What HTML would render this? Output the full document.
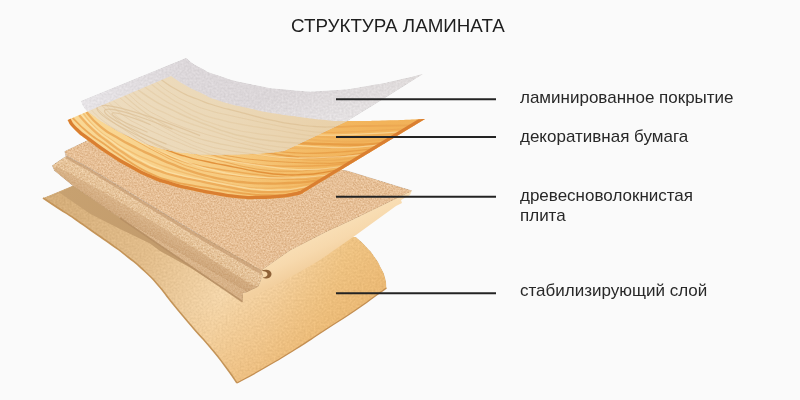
<!DOCTYPE html>
<html lang="ru">
<head>
<meta charset="utf-8">
<title>Структура ламината</title>
<style>
  html, body { margin:0; padding:0; }
  body { width:800px; height:400px; overflow:hidden; background:#fafafa; font-family:"Liberation Sans", sans-serif; position:relative; }
  svg { position:absolute; left:0; top:0; }
  .title { position:absolute; left:291px; top:15px; font-size:18.8px; line-height:22px; color:#1e1e1e; white-space:nowrap; }
  .title, .lbl { will-change:transform; }
  .lbl { position:absolute; left:520px; font-size:17px; line-height:20px; color:#282828; white-space:nowrap; }
</style>
</head>
<body>
<svg width="800" height="400" viewBox="0 0 800 400">
  <defs>
    <filter id="speck" x="0" y="0" width="100%" height="100%" color-interpolation-filters="sRGB">
      <feTurbulence type="fractalNoise" baseFrequency="0.62" numOctaves="2" seed="7" result="n"/>
      <feColorMatrix in="n" type="matrix" values="0.7 0 0 0 0.15  1 0 0 0 0  1.25 0 0 0 -0.125  0 0 0 0 1" result="nc"/>
      <feGaussianBlur in="nc" stdDeviation="0.35" result="nb"/>
      <feComposite in="SourceGraphic" in2="nb" operator="arithmetic" k1="0" k2="1" k3="0.26" k4="-0.13" result="mix"/>
      <feComposite in="mix" in2="SourceAlpha" operator="in"/>
    </filter>
    <filter id="soft" x="0" y="0" width="100%" height="100%" color-interpolation-filters="sRGB">
      <feTurbulence type="fractalNoise" baseFrequency="0.5" numOctaves="2" seed="11" result="n"/>
      <feColorMatrix in="n" type="matrix" values="1 0 0 0 0  1 0 0 0 0  1 0 0 0 0  0 0 0 0 1" result="nc"/>
      <feGaussianBlur in="nc" stdDeviation="0.5" result="nb"/>
      <feComposite in="SourceGraphic" in2="nb" operator="arithmetic" k1="0" k2="1" k3="0.1" k4="-0.05" result="mix"/>
      <feComposite in="mix" in2="SourceAlpha" operator="in"/>
    </filter>
    <linearGradient id="gFilm" x1="85" y1="100" x2="420" y2="90" gradientUnits="userSpaceOnUse">
      <stop offset="0" stop-color="#e6e3e6"/>
      <stop offset="0.3" stop-color="#dcd7da"/>
      <stop offset="0.7" stop-color="#dbd6d8"/>
      <stop offset="1" stop-color="#d9d4d4"/>
    </linearGradient>
    <linearGradient id="gFilmV" x1="300" y1="88" x2="315" y2="135" gradientUnits="userSpaceOnUse">
      <stop offset="0" stop-color="#ffffff" stop-opacity="0"/>
      <stop offset="1" stop-color="#ffffff" stop-opacity="0.32"/>
    </linearGradient>
    <linearGradient id="gWood" x1="120" y1="90" x2="330" y2="200" gradientUnits="userSpaceOnUse">
      <stop offset="0" stop-color="#f9d794"/>
      <stop offset="0.5" stop-color="#f7cc82"/>
      <stop offset="1" stop-color="#f4be6a"/>
    </linearGradient>
    <linearGradient id="gGold" x1="60" y1="200" x2="380" y2="300" gradientUnits="userSpaceOnUse">
      <stop offset="0" stop-color="#d5ae7a"/>
      <stop offset="0.3" stop-color="#e2bd8b"/>
      <stop offset="0.55" stop-color="#f4d6aa"/>
      <stop offset="0.7" stop-color="#f3d1a1"/>
      <stop offset="0.86" stop-color="#efc586"/>
      <stop offset="1" stop-color="#ecbe7c"/>
    </linearGradient>
    <linearGradient id="gGold2" x1="230" y1="290" x2="270" y2="370" gradientUnits="userSpaceOnUse">
      <stop offset="0" stop-color="#e9b46c" stop-opacity="0"/>
      <stop offset="1" stop-color="#e9b46e" stop-opacity="0.65"/>
    </linearGradient>
    <linearGradient id="gTongue" x1="0" y1="0" x2="-14" y2="24" gradientUnits="userSpaceOnUse" spreadMethod="repeat" gradientTransform="translate(100,174)">
      <stop offset="0" stop-color="#e9c8a0"/>
      <stop offset="0.6" stop-color="#e3c096"/>
      <stop offset="1" stop-color="#d3ad82"/>
    </linearGradient>
    <linearGradient id="gSide" x1="60" y1="175" x2="250" y2="295" gradientUnits="userSpaceOnUse">
      <stop offset="0" stop-color="#cda478"/>
      <stop offset="0.6" stop-color="#cba276"/>
      <stop offset="1" stop-color="#c69b6e"/>
    </linearGradient>
    <linearGradient id="gShadow" x1="60" y1="195" x2="240" y2="300" gradientUnits="userSpaceOnUse">
      <stop offset="0" stop-color="#c7a170"/>
      <stop offset="0.6" stop-color="#c29b6c"/>
      <stop offset="1" stop-color="#c8a274"/>
    </linearGradient>
    <linearGradient id="gCream" x1="300" y1="240" x2="312" y2="266" gradientUnits="userSpaceOnUse">
      <stop offset="0" stop-color="#f9dfb6"/>
      <stop offset="0.55" stop-color="#f7d9ad"/>
      <stop offset="1" stop-color="#f3d09f"/>
    </linearGradient>
    <linearGradient id="gWoodR" x1="230" y1="0" x2="420" y2="0" gradientUnits="userSpaceOnUse">
      <stop offset="0" stop-color="#ee9f3c" stop-opacity="0"/>
      <stop offset="0.5" stop-color="#ee9f3c" stop-opacity="0.28"/>
      <stop offset="1" stop-color="#ee9f3c" stop-opacity="0.4"/>
    </linearGradient>
    <linearGradient id="gPale" x1="100" y1="0" x2="350" y2="0" gradientUnits="userSpaceOnUse">
      <stop offset="0" stop-color="#eddcbf"/>
      <stop offset="0.5" stop-color="#ebd8b7"/>
      <stop offset="1" stop-color="#e9d0a8"/>
    </linearGradient>
    <clipPath id="cWood"><path d="M67.5,120.0L171.0,76.0C175.7,79.0 175.3,79.5 185.0,85.0 C194.7,90.5 188.3,87.2 200.0,92.5 C211.7,97.8 203.3,95.7 220.0,101.0 C236.7,106.3 231.7,104.3 250.0,108.5 C268.3,112.7 258.3,110.7 275.0,113.5 C291.7,116.3 283.3,114.8 300.0,117.0 C316.7,119.2 310.0,118.7 325.0,120.0 C340.0,121.3 325.0,120.8 345.0,121.0 C365.0,121.2 358.3,121.2 385.0,120.5 C411.7,119.8 411.7,119.5 425.0,119.0L304.0,192.3C302.8,192.9 304.5,192.9 300.5,194.2 C296.5,195.5 299.5,194.9 292.0,196.2 C284.5,197.5 288.7,197.1 278.0,198.0 C267.3,198.9 272.7,198.8 260.0,199.0 C247.3,199.2 255.0,199.8 240.0,198.5 C225.0,197.2 231.7,197.8 215.0,195.0 C198.3,192.2 205.0,193.3 190.0,190.0 C175.0,186.7 183.3,189.0 170.0,185.0 C156.7,181.0 163.3,183.7 150.0,178.0 C136.7,172.3 143.3,175.3 130.0,168.0 C116.7,160.7 123.3,164.7 110.0,156.0 C96.7,147.3 101.7,150.7 90.0,142.0 C78.3,133.3 82.5,137.3 75.0,130.0 C67.5,122.7 70.0,123.3 67.5,120.0 Z"/></clipPath>
    <clipPath id="cFilm"><path d="M81.0,101.0L186.0,58.0C190.7,61.2 188.7,61.5 200.0,67.5 C211.3,73.5 203.3,70.5 220.0,76.0 C236.7,81.5 226.7,79.3 250.0,84.0 C273.3,88.7 263.3,87.8 290.0,90.0 C316.7,92.2 303.3,92.0 330.0,90.5 C356.7,89.0 346.7,89.2 370.0,85.5 C393.3,81.8 382.3,83.3 400.0,79.5 C417.7,75.7 415.3,75.8 423.0,74.0L385.0,98.0 L347.5,121.0 L284.0,151.0C276.0,151.8 278.0,152.3 260.0,153.5 C242.0,154.7 248.3,154.2 230.0,154.5 C211.7,154.8 218.3,154.8 205.0,154.5 C191.7,154.2 200.0,154.5 190.0,153.5 C180.0,152.5 187.5,154.0 175.0,151.5 C162.5,149.0 167.5,150.8 152.5,146.0 C137.5,141.2 145.0,144.0 130.0,137.0 C115.0,130.0 120.2,132.5 107.5,125.0 C94.8,117.5 99.5,119.8 92.0,114.5 C84.5,109.2 87.3,110.8 85.0,109.0 Q82,105 81,101 Z"/></clipPath>
  </defs>

  <!-- layer 4: stabilising layer -->
  <g filter="url(#soft)">
  <path d="M43.0,198.0C48.0,201.3 47.3,201.0 58.0,208.0 C68.7,215.0 63.7,211.3 75.0,219.0 C86.3,226.7 80.3,222.8 92.0,231.0 C103.7,239.2 98.0,234.8 110.0,243.5 C122.0,252.2 116.3,247.7 128.0,257.0 C139.7,266.3 135.0,262.2 145.0,271.5 C155.0,280.8 149.8,275.7 158.0,285.0 C166.2,294.3 162.8,291.2 169.5,299.5 C176.2,307.8 169.8,300.2 178.0,310.0 C186.2,319.8 183.3,316.7 194.0,329.0 C204.7,341.3 199.7,334.7 210.0,347.0 C220.3,359.3 216.0,354.0 225.0,366.0 C234.0,378.0 233.0,377.3 237.0,383.0C246.3,377.8 245.7,378.7 265.0,367.5 C284.3,356.3 275.0,362.0 295.0,349.5 C315.0,337.0 305.0,343.0 325.0,330.0 C345.0,317.0 338.0,322.0 355.0,310.5 C372.0,299.0 365.5,303.0 376.0,295.5 C386.5,288.0 383.0,290.5 386.5,288.0C386.0,284.5 386.8,284.2 385.0,277.5 C383.2,270.8 384.3,274.7 381.0,268.0 C377.7,261.3 380.0,264.7 375.0,257.5 C370.0,250.3 372.3,253.3 366.0,246.5 C359.7,239.7 359.3,240.2 356.0,237.0L300.0,235.0 L200.0,235.0 L73.0,185.5 Z" fill="url(#gGold)"/>
  <path d="M43.0,198.0C48.0,201.3 47.3,201.0 58.0,208.0 C68.7,215.0 63.7,211.3 75.0,219.0 C86.3,226.7 80.3,222.8 92.0,231.0 C103.7,239.2 98.0,234.8 110.0,243.5 C122.0,252.2 116.3,247.7 128.0,257.0 C139.7,266.3 135.0,262.2 145.0,271.5 C155.0,280.8 149.8,275.7 158.0,285.0 C166.2,294.3 162.8,291.2 169.5,299.5 C176.2,307.8 169.8,300.2 178.0,310.0 C186.2,319.8 183.3,316.7 194.0,329.0 C204.7,341.3 199.7,334.7 210.0,347.0 C220.3,359.3 216.0,354.0 225.0,366.0 C234.0,378.0 233.0,377.3 237.0,383.0C246.3,377.8 245.7,378.7 265.0,367.5 C284.3,356.3 275.0,362.0 295.0,349.5 C315.0,337.0 305.0,343.0 325.0,330.0 C345.0,317.0 338.0,322.0 355.0,310.5 C372.0,299.0 365.5,303.0 376.0,295.5 C386.5,288.0 383.0,290.5 386.5,288.0C386.0,284.5 386.8,284.2 385.0,277.5 C383.2,270.8 384.3,274.7 381.0,268.0 C377.7,261.3 380.0,264.7 375.0,257.5 C370.0,250.3 372.3,253.3 366.0,246.5 C359.7,239.7 359.3,240.2 356.0,237.0L300.0,235.0 L200.0,235.0 L73.0,185.5 Z" fill="url(#gGold2)"/>
  </g>
  <path d="M43.0,198.0C48.0,201.3 47.3,201.0 58.0,208.0 C68.7,215.0 63.7,211.3 75.0,219.0 C86.3,226.7 80.3,222.8 92.0,231.0 C103.7,239.2 98.0,234.8 110.0,243.5 C122.0,252.2 116.3,247.7 128.0,257.0 C139.7,266.3 135.0,262.2 145.0,271.5 C155.0,280.8 149.8,275.7 158.0,285.0 C166.2,294.3 162.8,291.2 169.5,299.5 C176.2,307.8 169.8,300.2 178.0,310.0 C186.2,319.8 183.3,316.7 194.0,329.0 C204.7,341.3 199.7,334.7 210.0,347.0 C220.3,359.3 216.0,354.0 225.0,366.0 C234.0,378.0 233.0,377.3 237.0,383.0" fill="none" stroke="#c49458" stroke-width="1.6"/>
  <path d="M237.0,383.0C246.3,377.8 245.7,378.7 265.0,367.5 C284.3,356.3 275.0,362.0 295.0,349.5 C315.0,337.0 305.0,343.0 325.0,330.0 C345.0,317.0 338.0,322.0 355.0,310.5 C372.0,299.0 365.5,303.0 376.0,295.5 C386.5,288.0 383.0,290.5 386.5,288.0" fill="none" stroke="#c48f52" stroke-width="1.3"/>

  <!-- layer 3: board -->
  <!-- shadow band on stabilising layer (T3..T4) -->
  <path d="M73,186 L225,290 L215,283.5 L190,267.5 L160,251 L150,243.5 L120,229 L90,213.75 L60,193 L46,198.5 Z" fill="url(#gShadow)"/>
  <!-- cream front side face -->
  <path d="M261,268.5 L290,248 L326,230 L407,191 L412,190.5 L410,195 L401,200 L402,203 L396,206 L356,235 L320,260 L300,271.75 L270,287.5 L242.5,301.75 L243,293 L246,292.5 L258.5,286.5 Z" fill="url(#gCream)"/>
  <!-- tongue + side (A..T3) -->
  <path d="M52,165.5 L64.4,157 L67,156 L90,168.5 L160,211 L208,240 L261.3,270.6 L263,275 L258.5,286.5 L246,292.5 L243,293 L242.5,301.75 L73,186 L54,170.5 Z" fill="url(#gTongue)" filter="url(#speck)"/>
  <!-- lower side of tongue (T2..T3) -->
  <path d="M54,170 L56,166 L100,190 L160,226 L250,284 L258.5,286.5 L246,292.5 L243,293 L242.5,301.75 L73,186 Z" fill="url(#gSide)" opacity="0.5"/>
  <path d="M120,218 L242.5,301.75" stroke="#b48c60" stroke-width="1.6" fill="none" opacity="0.8"/>
  <!-- shadow lip under top face -->
  <path d="M64.4,151.25 L67,156 L90,168.5 L160,211 L208,240 L261.3,270.6 L262.3,275 L208,244 L160,214.8 L90,171.8 L66,158.5 Z" fill="#c0956a" opacity="0.62"/>
  <!-- groove -->
  <path d="M261.5,270.8 C265,268.6 271.5,269.6 271.5,274 C271.5,278.4 265.5,279.6 262.5,277.6 C265.5,277.4 267.6,276 267.5,274 C267.4,272 265,271.2 261.5,270.8 Z" fill="#8f6238"/>
  <!-- top face -->
  <path d="M64.4,151.25 L88,140 L347,170.5 L412,190.5 L410,192 L350,221 L326,232 L290,250.5 L261.3,270.6 L208,240 L160,211 L90,168.5 L67,156 Z" fill="#e6bf96" filter="url(#speck)"/>

  <!-- layer 2: decorative paper -->
  <path d="M67.5,120.0L171.0,76.0C175.7,79.0 175.3,79.5 185.0,85.0 C194.7,90.5 188.3,87.2 200.0,92.5 C211.7,97.8 203.3,95.7 220.0,101.0 C236.7,106.3 231.7,104.3 250.0,108.5 C268.3,112.7 258.3,110.7 275.0,113.5 C291.7,116.3 283.3,114.8 300.0,117.0 C316.7,119.2 310.0,118.7 325.0,120.0 C340.0,121.3 325.0,120.8 345.0,121.0 C365.0,121.2 358.3,121.2 385.0,120.5 C411.7,119.8 411.7,119.5 425.0,119.0L304.0,192.3C302.8,192.9 304.5,192.9 300.5,194.2 C296.5,195.5 299.5,194.9 292.0,196.2 C284.5,197.5 288.7,197.1 278.0,198.0 C267.3,198.9 272.7,198.8 260.0,199.0 C247.3,199.2 255.0,199.8 240.0,198.5 C225.0,197.2 231.7,197.8 215.0,195.0 C198.3,192.2 205.0,193.3 190.0,190.0 C175.0,186.7 183.3,189.0 170.0,185.0 C156.7,181.0 163.3,183.7 150.0,178.0 C136.7,172.3 143.3,175.3 130.0,168.0 C116.7,160.7 123.3,164.7 110.0,156.0 C96.7,147.3 101.7,150.7 90.0,142.0 C78.3,133.3 82.5,137.3 75.0,130.0 C67.5,122.7 70.0,123.3 67.5,120.0 Z" fill="url(#gWood)"/>
  <path d="M67.5,120.0L171.0,76.0C175.7,79.0 175.3,79.5 185.0,85.0 C194.7,90.5 188.3,87.2 200.0,92.5 C211.7,97.8 203.3,95.7 220.0,101.0 C236.7,106.3 231.7,104.3 250.0,108.5 C268.3,112.7 258.3,110.7 275.0,113.5 C291.7,116.3 283.3,114.8 300.0,117.0 C316.7,119.2 310.0,118.7 325.0,120.0 C340.0,121.3 325.0,120.8 345.0,121.0 C365.0,121.2 358.3,121.2 385.0,120.5 C411.7,119.8 411.7,119.5 425.0,119.0L304.0,192.3C302.8,192.9 304.5,192.9 300.5,194.2 C296.5,195.5 299.5,194.9 292.0,196.2 C284.5,197.5 288.7,197.1 278.0,198.0 C267.3,198.9 272.7,198.8 260.0,199.0 C247.3,199.2 255.0,199.8 240.0,198.5 C225.0,197.2 231.7,197.8 215.0,195.0 C198.3,192.2 205.0,193.3 190.0,190.0 C175.0,186.7 183.3,189.0 170.0,185.0 C156.7,181.0 163.3,183.7 150.0,178.0 C136.7,172.3 143.3,175.3 130.0,168.0 C116.7,160.7 123.3,164.7 110.0,156.0 C96.7,147.3 101.7,150.7 90.0,142.0 C78.3,133.3 82.5,137.3 75.0,130.0 C67.5,122.7 70.0,123.3 67.5,120.0 Z" fill="url(#gWoodR)"/>
  <g clip-path="url(#cWood)" fill="none">
    <path d="M72.7,117.8C77.5,122.5 76.9,123.2 87.2,131.8 C97.4,140.4 92.7,135.8 103.5,143.5 C114.2,151.2 108.7,147.5 119.3,154.8 C130.0,162.1 124.3,158.8 135.4,165.4 C146.5,172.0 140.5,169.3 152.6,174.5 C164.6,179.8 158.5,177.4 171.6,181.1 C184.8,184.7 178.3,182.9 192.0,185.4 C205.7,188.0 199.1,186.6 212.7,188.8 C226.2,190.9 219.6,189.9 232.6,191.8 C245.6,193.6 239.0,193.2 251.6,194.3 C264.2,195.5 257.7,195.3 270.3,195.2 C282.9,195.2 276.5,196.1 289.4,194.2 C302.3,192.2 302.4,190.9 308.9,189.3" stroke="#e79a42" stroke-width="1.8" opacity="0.75"/>
<path d="M79.0,115.1C83.6,119.9 83.0,120.6 92.6,129.4 C102.1,138.2 97.5,133.7 107.7,141.5 C118.0,149.3 112.5,145.8 123.4,152.8 C134.2,159.9 128.5,156.8 140.4,162.8 C152.3,168.8 146.2,166.2 159.1,170.9 C172.0,175.5 165.8,173.3 179.1,176.6 C192.5,180.0 186.1,178.2 199.3,181.0 C212.4,183.9 206.0,182.5 218.6,185.1 C231.2,187.7 224.8,186.7 237.2,188.9 C249.6,191.0 243.1,190.6 255.9,191.6 C268.7,192.5 262.1,192.4 275.5,191.8 C289.0,191.2 282.5,192.2 296.2,189.8 C309.9,187.4 309.9,186.3 316.7,184.6" stroke="#e79a42" stroke-width="2.3" opacity="0.60"/>
<path d="M83.1,113.3C87.4,118.2 86.5,119.1 95.9,127.9 C105.3,136.7 100.6,132.3 111.3,139.8 C122.1,147.3 116.5,143.9 128.3,150.4 C140.1,156.9 134.2,153.8 146.8,159.4 C159.3,164.9 153.2,162.4 166.0,167.0 C178.8,171.5 172.6,169.3 185.3,173.1 C197.9,176.8 191.6,175.0 203.9,178.2 C216.3,181.5 209.9,180.1 222.3,182.8 C234.7,185.5 228.2,184.6 241.2,186.4 C254.1,188.1 247.5,187.7 261.2,188.1 C274.9,188.5 268.2,188.4 282.2,187.4 C296.3,186.5 289.7,187.4 303.3,185.2 C316.9,183.0 316.4,182.3 323.0,180.8" stroke="#eba651" stroke-width="1.4" opacity="0.45"/>
<path d="M86.3,112.0C90.8,116.7 89.8,117.7 99.9,126.1 C110.1,134.5 105.2,130.2 116.8,137.2 C128.5,144.3 122.7,140.9 134.9,147.1 C147.0,153.3 141.1,150.3 153.3,155.9 C165.5,161.5 159.4,159.0 171.4,163.9 C183.4,168.8 177.3,166.6 189.3,170.7 C201.4,174.7 195.1,172.9 207.5,176.0 C220.0,179.2 213.5,177.9 226.7,180.1 C239.9,182.3 233.3,181.4 247.1,182.6 C261.0,183.7 254.2,183.4 268.2,183.5 C282.2,183.7 275.5,183.6 289.1,183.0 C302.6,182.3 296.2,183.2 308.9,181.6 C321.5,180.1 321.0,179.4 327.1,178.3" stroke="#e3933a" stroke-width="2.3" opacity="0.60"/>
<path d="M91.2,109.9C96.3,114.3 95.5,115.2 106.3,123.2 C117.2,131.2 112.2,127.0 123.9,133.9 C135.6,140.8 129.8,137.5 141.4,143.9 C152.9,150.3 147.1,147.2 158.5,153.1 C170.0,159.0 163.9,156.5 175.7,161.5 C187.4,166.5 181.2,164.4 193.7,168.1 C206.2,171.8 199.8,170.1 213.2,172.6 C226.6,175.2 220.0,174.0 233.8,175.7 C247.7,177.4 241.0,176.6 254.8,177.7 C268.6,178.8 261.9,178.4 275.2,179.0 C288.4,179.6 281.8,179.5 294.5,179.4 C307.2,179.4 300.8,180.1 313.2,178.8 C325.6,177.5 325.5,176.6 331.7,175.5" stroke="#e79a42" stroke-width="1.0" opacity="0.60"/>
<path d="M96.2,107.8C101.3,112.2 100.9,112.8 111.5,120.9 C122.1,129.0 117.1,124.8 128.0,132.0 C139.0,139.2 133.3,135.8 144.3,142.5 C155.2,149.1 149.4,146.1 160.9,151.8 C172.4,157.6 166.2,155.3 178.7,159.8 C191.2,164.3 184.9,162.3 198.3,165.4 C211.7,168.5 205.2,166.9 218.9,169.2 C232.7,171.4 226.1,170.3 239.5,172.2 C253.0,174.1 246.4,173.3 259.3,174.9 C272.2,176.5 265.6,176.0 278.2,177.0 C290.8,178.0 284.3,177.9 297.0,177.8 C309.7,177.7 303.3,178.5 316.4,176.8 C329.5,175.1 329.7,174.0 336.4,172.7" stroke="#eba651" stroke-width="1.4" opacity="0.90"/>
<path d="M101.9,105.4C106.6,109.9 106.1,110.6 116.0,118.9 C125.9,127.2 120.9,123.0 131.6,130.3 C142.2,137.6 136.5,134.4 147.8,140.7 C159.2,147.0 153.3,144.1 165.6,149.3 C178.0,154.5 171.8,152.3 185.0,156.2 C198.2,160.2 191.8,158.3 205.3,161.3 C218.7,164.3 212.2,162.7 225.3,165.3 C238.4,167.9 231.9,166.7 244.5,169.1 C257.1,171.5 250.6,170.7 263.1,172.5 C275.6,174.3 269.1,173.8 282.0,174.5 C295.0,175.2 288.4,175.2 302.0,174.5 C315.6,173.9 309.0,174.7 322.9,172.6 C336.8,170.5 336.7,169.7 343.6,168.3" stroke="#e08c34" stroke-width="1.4" opacity="0.90"/>
<path d="M105.2,104.0C109.7,108.5 108.8,109.4 118.7,117.7 C128.6,125.9 123.6,121.9 134.9,128.8 C146.1,135.7 140.3,132.6 152.6,138.3 C164.8,144.1 158.8,141.3 171.7,146.1 C184.5,150.9 178.3,148.7 191.2,152.7 C204.1,156.8 197.8,154.8 210.4,158.2 C223.1,161.7 216.7,160.0 229.1,163.0 C241.4,166.0 235.0,164.9 247.5,167.3 C260.1,169.6 253.5,168.8 266.7,170.2 C279.9,171.5 273.2,171.1 287.1,171.2 C300.9,171.3 294.2,171.3 308.3,170.4 C322.4,169.5 315.8,170.2 329.3,168.5 C342.8,166.7 342.4,166.2 348.9,165.1" stroke="#e3933a" stroke-width="1.0" opacity="0.60"/>
<path d="M108.9,102.4C113.8,106.8 112.8,107.7 123.6,115.5 C134.3,123.3 129.1,119.4 141.2,125.8 C153.2,132.2 147.3,129.2 159.8,134.8 C172.2,140.3 166.2,137.5 178.6,142.4 C190.9,147.4 184.7,145.2 196.8,149.6 C208.9,154.0 202.7,152.0 214.9,155.6 C227.0,159.3 220.7,157.7 233.4,160.4 C246.0,163.2 239.5,162.1 252.9,163.9 C266.3,165.7 259.6,165.0 273.6,165.8 C287.6,166.6 280.8,166.2 294.8,166.2 C308.8,166.2 302.1,166.2 315.5,165.7 C328.9,165.2 322.4,165.9 335.1,164.7 C347.7,163.6 347.3,163.1 353.5,162.3" stroke="#e79a42" stroke-width="1.4" opacity="0.60"/>
<path d="M113.1,100.6C118.5,104.7 117.8,105.5 129.2,113.0 C140.5,120.5 135.2,116.6 147.1,123.0 C159.0,129.4 153.1,126.4 164.9,132.2 C176.6,138.0 170.7,135.2 182.3,140.4 C194.0,145.6 187.8,143.5 199.8,147.9 C211.8,152.3 205.5,150.4 218.3,153.6 C231.1,156.8 224.6,155.3 238.2,157.5 C251.8,159.7 245.1,158.7 259.1,160.1 C273.0,161.5 266.3,160.9 280.0,161.7 C293.7,162.6 287.1,162.2 300.2,162.7 C313.3,163.2 306.8,163.1 319.4,163.2 C332.0,163.2 325.6,163.8 338.1,162.8 C350.7,161.8 350.7,161.0 357.0,160.2" stroke="#e08c34" stroke-width="1.0" opacity="0.60"/>
<path d="M119.8,97.8C125.1,101.9 124.8,102.5 135.7,110.0 C146.7,117.6 141.4,113.8 152.6,120.5 C163.7,127.1 157.9,124.2 169.2,130.1 C180.5,136.0 174.5,133.3 186.4,138.2 C198.3,143.2 192.1,141.2 204.9,145.0 C217.7,148.8 211.3,147.1 224.9,149.7 C238.6,152.3 232.0,150.9 245.8,152.9 C259.6,154.9 252.9,154.0 266.3,155.7 C279.7,157.4 273.1,156.7 285.9,158.0 C298.8,159.3 292.2,158.9 304.8,159.7 C317.4,160.5 310.8,160.5 323.7,160.4 C336.6,160.2 330.1,160.8 343.4,159.3 C356.8,157.9 357.1,157.1 363.9,156.0" stroke="#eba651" stroke-width="1.4" opacity="0.60"/>
<path d="M124.6,95.7C129.5,99.9 129.1,100.6 139.4,108.4 C149.7,116.2 144.4,112.4 155.4,119.1 C166.4,125.8 160.5,122.9 172.4,128.5 C184.2,134.1 178.1,131.4 191.0,135.8 C203.8,140.2 197.4,138.3 210.9,141.6 C224.3,145.0 217.8,143.3 231.3,146.0 C244.8,148.6 238.3,147.2 251.3,149.6 C264.3,152.0 257.8,151.0 270.4,153.2 C282.9,155.3 276.4,154.6 289.0,156.0 C301.6,157.5 295.0,157.1 308.2,157.5 C321.3,157.9 314.7,157.9 328.5,157.2 C342.3,156.5 335.6,157.1 349.6,155.4 C363.6,153.6 363.5,153.2 370.4,152.0" stroke="#e08c34" stroke-width="1.8" opacity="0.60"/>
<path d="M128.7,94.0C133.5,98.2 132.8,99.0 143.2,106.7 C153.7,114.3 148.3,110.7 160.1,116.9 C171.9,123.2 165.8,120.4 178.5,125.4 C191.3,130.4 185.1,127.9 198.3,131.9 C211.4,136.0 205.1,134.1 218.1,137.6 C231.1,141.1 224.7,139.4 237.3,142.4 C249.9,145.5 243.5,144.0 255.9,146.8 C268.4,149.5 261.9,148.5 274.6,150.6 C287.3,152.6 280.7,151.9 294.1,152.8 C307.5,153.7 300.8,153.3 314.8,153.2 C328.8,153.0 322.1,153.1 336.1,152.2 C350.2,151.4 343.5,151.9 357.0,150.6 C370.5,149.3 370.1,149.1 376.6,148.3" stroke="#e3933a" stroke-width="1.4" opacity="0.60"/>
<path d="M132.6,92.3C137.9,96.3 137.0,97.2 148.4,104.4 C159.7,111.5 154.2,108.0 166.7,113.8 C179.1,119.7 173.0,117.0 185.8,121.9 C198.5,126.7 192.4,124.2 204.9,128.4 C217.4,132.6 211.1,130.7 223.3,134.6 C235.6,138.4 229.2,136.8 241.6,139.9 C253.9,143.1 247.5,141.7 260.4,144.1 C273.3,146.4 266.7,145.6 280.3,147.0 C294.0,148.4 287.3,147.9 301.3,148.3 C315.4,148.6 308.6,148.3 322.5,148.1 C336.4,148.0 329.7,148.1 343.0,147.7 C356.3,147.4 349.8,147.8 362.4,147.1 C375.1,146.4 374.8,146.1 381.0,145.7" stroke="#eba651" stroke-width="1.8" opacity="0.45"/>
<path d="M138.2,90.0C143.8,93.8 143.4,94.5 155.2,101.3 C167.0,108.2 161.4,104.7 173.6,110.6 C185.7,116.5 179.7,113.8 191.6,118.9 C203.6,124.1 197.6,121.5 209.5,125.9 C221.4,130.4 215.1,128.6 227.5,132.3 C239.8,136.0 233.4,134.4 246.5,137.0 C259.6,139.7 253.0,138.4 266.8,140.2 C280.6,142.0 273.9,141.3 287.9,142.4 C301.9,143.5 295.1,143.0 308.8,143.5 C322.4,144.1 315.7,143.7 328.8,144.1 C341.8,144.4 335.2,144.5 347.8,144.6 C360.5,144.7 354.0,145.0 366.7,144.4 C379.4,143.7 379.6,143.2 386.0,142.6" stroke="#e08c34" stroke-width="2.3" opacity="0.60"/>
<path d="M144.8,87.1C150.4,90.9 150.2,91.5 161.5,98.5 C172.8,105.5 167.3,102.1 178.7,108.2 C190.1,114.3 184.1,111.7 195.8,116.9 C207.5,122.1 201.4,119.6 213.7,123.7 C226.1,127.8 219.7,126.1 232.9,129.2 C246.2,132.3 239.6,130.8 253.4,133.0 C267.3,135.1 260.6,133.9 274.4,135.6 C288.2,137.3 281.5,136.6 294.8,138.1 C308.1,139.6 301.5,139.0 314.3,140.0 C327.1,141.1 320.5,140.7 333.2,141.2 C345.8,141.8 339.2,141.9 352.3,141.7 C365.3,141.5 358.7,141.9 372.4,140.7 C386.0,139.6 386.3,139.1 393.2,138.2" stroke="#eba651" stroke-width="1.8" opacity="0.45"/>
<path d="M151.5,84.3C156.7,88.2 156.3,88.8 167.0,96.0 C177.8,103.2 172.2,99.8 183.7,105.8 C195.1,111.9 189.0,109.4 201.4,114.1 C213.8,118.8 207.6,116.4 220.9,119.9 C234.2,123.3 227.7,121.7 241.4,124.4 C255.1,127.1 248.5,125.7 262.0,127.9 C275.5,130.1 269.0,128.9 281.9,131.0 C294.9,133.2 288.3,132.5 300.9,134.3 C313.5,136.2 307.0,135.6 319.7,136.6 C332.5,137.6 325.9,137.2 339.2,137.3 C352.6,137.3 345.9,137.5 359.8,136.8 C373.8,136.0 367.0,136.4 381.1,135.1 C395.2,133.8 395.1,133.6 402.1,132.9" stroke="#eba651" stroke-width="1.8" opacity="0.45"/>
<path d="M156.4,82.2C161.6,86.1 160.9,86.9 172.0,93.8 C183.2,100.7 177.4,97.5 189.8,103.0 C202.1,108.5 195.8,106.2 209.0,110.3 C222.3,114.4 215.9,112.2 229.4,115.3 C242.9,118.5 236.4,116.9 249.5,119.8 C262.7,122.7 256.2,121.3 268.8,123.9 C281.5,126.5 275.0,125.3 287.5,127.6 C300.1,130.0 293.5,129.3 306.4,130.9 C319.4,132.5 312.7,132.0 326.4,132.4 C340.0,132.7 333.3,132.4 347.4,131.9 C361.5,131.5 354.7,131.7 368.7,130.9 C382.8,130.2 376.1,130.4 389.5,129.7 C402.9,128.9 402.5,129.0 409.1,128.7" stroke="#eba651" stroke-width="1.0" opacity="0.75"/>
<path d="M161.5,80.0C167.2,83.6 166.5,84.4 178.6,90.8 C190.7,97.3 184.8,94.2 197.7,99.3 C210.6,104.4 204.2,102.2 217.3,106.2 C230.4,110.2 224.1,108.0 236.9,111.4 C249.7,114.7 243.2,113.2 255.6,116.4 C268.1,119.5 261.6,118.2 274.2,120.7 C286.8,123.3 280.2,122.2 293.4,124.1 C306.6,126.0 299.9,125.5 313.7,126.4 C327.6,127.4 320.8,127.0 335.0,126.9 C349.1,126.9 342.4,126.6 356.2,126.2 C370.0,125.9 363.3,126.1 376.5,125.9 C389.7,125.7 383.1,125.8 395.8,125.6 C408.4,125.4 408.3,125.4 414.6,125.3" stroke="#eba651" stroke-width="1.8" opacity="0.90"/>

    <path d="M81.0,114.3C85.6,119.0 85.1,119.7 94.9,128.3 C104.7,137.0 100.0,132.5 110.4,140.2 C120.9,147.9 115.4,144.4 126.2,151.4 C137.1,158.4 131.4,155.3 143.1,161.3 C154.9,167.3 148.8,164.8 161.5,169.5 C174.2,174.2 168.0,172.0 181.3,175.4 C194.6,178.8 188.2,177.0 201.5,179.7 C214.8,182.4 208.3,181.1 221.2,183.5 C234.1,185.9 227.6,185.0 240.2,187.0 C252.8,189.0 246.2,188.6 259.0,189.5 C271.7,190.5 265.2,190.4 278.4,190.0 C291.6,189.5 285.1,190.5 298.6,188.2 C312.2,186.0 312.2,184.9 318.9,183.3" stroke="#fde9b8" stroke-width="1.3" opacity="0.55"/>
<path d="M93.8,108.8C98.5,113.4 97.5,114.3 107.9,122.5 C118.2,130.7 113.2,126.6 124.9,133.4 C136.6,140.3 130.8,137.1 143.0,143.1 C155.1,149.2 149.2,146.2 161.4,151.6 C173.6,157.0 167.4,154.6 179.5,159.3 C191.6,164.1 185.4,161.9 197.6,165.8 C209.8,169.6 203.5,167.9 216.1,170.8 C228.8,173.8 222.3,172.6 235.5,174.7 C248.8,176.7 242.2,175.9 255.9,177.0 C269.7,178.1 263.0,177.7 276.9,177.9 C290.7,178.1 284.1,178.0 297.5,177.5 C311.0,176.9 304.5,177.7 317.2,176.2 C330.0,174.8 329.5,174.1 335.7,173.1" stroke="#fde9b8" stroke-width="1.3" opacity="0.55"/>
<path d="M107.7,102.9C112.8,107.2 112.4,107.9 122.9,115.8 C133.4,123.7 128.3,119.7 139.2,126.7 C150.1,133.7 144.4,130.6 155.6,136.8 C166.9,143.0 161.0,140.2 172.9,145.4 C184.9,150.7 178.7,148.5 191.5,152.5 C204.4,156.6 198.0,154.7 211.5,157.6 C225.0,160.5 218.5,159.0 232.0,161.2 C245.6,163.5 239.0,162.4 252.1,164.4 C265.3,166.4 258.7,165.6 271.4,167.2 C284.2,168.7 277.6,168.3 290.4,169.1 C303.1,169.9 296.5,169.9 309.6,169.6 C322.7,169.3 316.2,170.0 329.6,168.2 C343.1,166.5 343.2,165.7 350.0,164.4" stroke="#fde9b8" stroke-width="1.3" opacity="0.55"/>
<path d="M121.0,97.3C125.9,101.5 125.0,102.4 135.8,110.0 C146.5,117.7 141.2,113.9 153.2,120.2 C165.2,126.4 159.2,123.6 171.8,128.8 C184.4,134.0 178.3,131.3 191.0,135.8 C203.7,140.2 197.4,138.2 209.9,142.2 C222.4,146.1 216.1,144.3 228.5,147.6 C240.9,150.9 234.5,149.4 247.1,152.1 C259.7,154.8 253.2,153.8 266.4,155.6 C279.5,157.5 272.9,156.8 286.6,157.6 C300.4,158.3 293.6,158.0 307.6,157.9 C321.6,157.7 314.9,157.8 328.5,157.2 C342.2,156.6 335.6,157.1 348.6,156.0 C361.6,154.9 361.2,154.6 367.5,153.8" stroke="#fde9b8" stroke-width="1.3" opacity="0.55"/>
<path d="M136.5,90.7C141.9,94.6 141.7,95.2 152.9,102.4 C164.1,109.5 158.7,106.0 170.2,112.2 C181.6,118.4 175.7,115.7 187.3,121.1 C199.0,126.4 192.9,123.9 205.1,128.3 C217.4,132.6 211.0,130.8 224.0,134.2 C237.0,137.6 230.5,136.1 244.1,138.5 C257.7,140.8 251.1,139.5 264.8,141.4 C278.6,143.2 271.9,142.4 285.3,143.9 C298.7,145.4 292.1,144.8 305.1,145.9 C318.0,146.9 311.4,146.5 324.2,147.1 C336.9,147.6 330.3,147.7 343.3,147.6 C356.3,147.4 349.7,147.8 363.1,146.7 C376.6,145.5 376.8,144.9 383.6,144.1" stroke="#fde9b8" stroke-width="1.3" opacity="0.55"/>
<path d="M152.3,84.0C157.5,87.8 156.8,88.6 168.0,95.6 C179.2,102.5 173.5,99.2 185.9,104.8 C198.2,110.4 192.0,108.0 205.1,112.3 C218.1,116.5 211.9,114.2 225.1,117.6 C238.4,121.0 231.9,119.4 244.9,122.4 C257.9,125.5 251.4,124.0 264.0,126.7 C276.7,129.4 270.2,128.2 282.9,130.5 C295.5,132.8 288.9,132.1 302.0,133.6 C315.1,135.2 308.5,134.7 322.2,135.1 C335.9,135.4 329.1,135.1 343.1,134.7 C357.1,134.3 350.4,134.5 364.2,133.9 C378.1,133.2 371.4,133.5 384.7,132.8 C398.0,132.0 397.6,132.0 404.1,131.6" stroke="#fde9b8" stroke-width="1.3" opacity="0.55"/>

    <path d="M425.0,119.0L304.0,192.3C302.8,192.9 304.5,192.9 300.5,194.2 C296.5,195.5 299.5,194.9 292.0,196.2 C284.5,197.5 288.7,197.1 278.0,198.0 C267.3,198.9 272.7,198.8 260.0,199.0 C247.3,199.2 255.0,199.8 240.0,198.5 C225.0,197.2 231.7,197.8 215.0,195.0 C198.3,192.2 205.0,193.3 190.0,190.0 C175.0,186.7 183.3,189.0 170.0,185.0 C156.7,181.0 163.3,183.7 150.0,178.0 C136.7,172.3 143.3,175.3 130.0,168.0 C116.7,160.7 123.3,164.7 110.0,156.0 C96.7,147.3 101.7,150.7 90.0,142.0 C78.3,133.3 82.5,137.3 75.0,130.0 C67.5,122.7 70.0,123.3 67.5,120.0" stroke="#da7f31" stroke-width="6.6"/>
  </g>

  <!-- layer 1: film -->
  <g filter="url(#soft)">
  <path d="M81.0,101.0L186.0,58.0C190.7,61.2 188.7,61.5 200.0,67.5 C211.3,73.5 203.3,70.5 220.0,76.0 C236.7,81.5 226.7,79.3 250.0,84.0 C273.3,88.7 263.3,87.8 290.0,90.0 C316.7,92.2 303.3,92.0 330.0,90.5 C356.7,89.0 346.7,89.2 370.0,85.5 C393.3,81.8 382.3,83.3 400.0,79.5 C417.7,75.7 415.3,75.8 423.0,74.0L385.0,98.0 L347.5,121.0 L284.0,151.0C276.0,151.8 278.0,152.3 260.0,153.5 C242.0,154.7 248.3,154.2 230.0,154.5 C211.7,154.8 218.3,154.8 205.0,154.5 C191.7,154.2 200.0,154.5 190.0,153.5 C180.0,152.5 187.5,154.0 175.0,151.5 C162.5,149.0 167.5,150.8 152.5,146.0 C137.5,141.2 145.0,144.0 130.0,137.0 C115.0,130.0 120.2,132.5 107.5,125.0 C94.8,117.5 99.5,119.8 92.0,114.5 C84.5,109.2 87.3,110.8 85.0,109.0 Q82,105 81,101 Z" fill="url(#gFilm)"/>
  <path d="M81.0,101.0L186.0,58.0C190.7,61.2 188.7,61.5 200.0,67.5 C211.3,73.5 203.3,70.5 220.0,76.0 C236.7,81.5 226.7,79.3 250.0,84.0 C273.3,88.7 263.3,87.8 290.0,90.0 C316.7,92.2 303.3,92.0 330.0,90.5 C356.7,89.0 346.7,89.2 370.0,85.5 C393.3,81.8 382.3,83.3 400.0,79.5 C417.7,75.7 415.3,75.8 423.0,74.0L385.0,98.0 L347.5,121.0 L284.0,151.0C276.0,151.8 278.0,152.3 260.0,153.5 C242.0,154.7 248.3,154.2 230.0,154.5 C211.7,154.8 218.3,154.8 205.0,154.5 C191.7,154.2 200.0,154.5 190.0,153.5 C180.0,152.5 187.5,154.0 175.0,151.5 C162.5,149.0 167.5,150.8 152.5,146.0 C137.5,141.2 145.0,144.0 130.0,137.0 C115.0,130.0 120.2,132.5 107.5,125.0 C94.8,117.5 99.5,119.8 92.0,114.5 C84.5,109.2 87.3,110.8 85.0,109.0 Q82,105 81,101 Z" fill="url(#gFilmV)"/>
  </g>
  <g clip-path="url(#cFilm)">
    <path d="M67.5,120.0L171.0,76.0C175.7,79.0 175.3,79.5 185.0,85.0 C194.7,90.5 188.3,87.2 200.0,92.5 C211.7,97.8 203.3,95.7 220.0,101.0 C236.7,106.3 231.7,104.3 250.0,108.5 C268.3,112.7 258.3,110.7 275.0,113.5 C291.7,116.3 283.3,114.8 300.0,117.0 C316.7,119.2 310.0,118.7 325.0,120.0 C340.0,121.3 325.0,120.8 345.0,121.0 C365.0,121.2 358.3,121.2 385.0,120.5 C411.7,119.8 411.7,119.5 425.0,119.0L304.0,192.3C302.8,192.9 304.5,192.9 300.5,194.2 C296.5,195.5 299.5,194.9 292.0,196.2 C284.5,197.5 288.7,197.1 278.0,198.0 C267.3,198.9 272.7,198.8 260.0,199.0 C247.3,199.2 255.0,199.8 240.0,198.5 C225.0,197.2 231.7,197.8 215.0,195.0 C198.3,192.2 205.0,193.3 190.0,190.0 C175.0,186.7 183.3,189.0 170.0,185.0 C156.7,181.0 163.3,183.7 150.0,178.0 C136.7,172.3 143.3,175.3 130.0,168.0 C116.7,160.7 123.3,164.7 110.0,156.0 C96.7,147.3 101.7,150.7 90.0,142.0 C78.3,133.3 82.5,137.3 75.0,130.0 C67.5,122.7 70.0,123.3 67.5,120.0 Z" fill="url(#gPale)"/>
    <g clip-path="url(#cWood)" fill="none">
<path d="M72.7,117.8C77.5,122.5 76.9,123.2 87.2,131.8 C97.4,140.4 92.7,135.8 103.5,143.5 C114.2,151.2 108.7,147.5 119.3,154.8 C130.0,162.1 124.3,158.8 135.4,165.4 C146.5,172.0 140.5,169.3 152.6,174.5 C164.6,179.8 158.5,177.4 171.6,181.1 C184.8,184.7 178.3,182.9 192.0,185.4 C205.7,188.0 199.1,186.6 212.7,188.8 C226.2,190.9 219.6,189.9 232.6,191.8 C245.6,193.6 239.0,193.2 251.6,194.3 C264.2,195.5 257.7,195.3 270.3,195.2 C282.9,195.2 276.5,196.1 289.4,194.2 C302.3,192.2 302.4,190.9 308.9,189.3" stroke="#d9b98a" stroke-width="1.2" opacity="0.45"/>
<path d="M79.0,115.1C83.6,119.9 83.0,120.6 92.6,129.4 C102.1,138.2 97.5,133.7 107.7,141.5 C118.0,149.3 112.5,145.8 123.4,152.8 C134.2,159.9 128.5,156.8 140.4,162.8 C152.3,168.8 146.2,166.2 159.1,170.9 C172.0,175.5 165.8,173.3 179.1,176.6 C192.5,180.0 186.1,178.2 199.3,181.0 C212.4,183.9 206.0,182.5 218.6,185.1 C231.2,187.7 224.8,186.7 237.2,188.9 C249.6,191.0 243.1,190.6 255.9,191.6 C268.7,192.5 262.1,192.4 275.5,191.8 C289.0,191.2 282.5,192.2 296.2,189.8 C309.9,187.4 309.9,186.3 316.7,184.6" stroke="#d9b98a" stroke-width="1.5" opacity="0.36"/>
<path d="M83.1,113.3C87.4,118.2 86.5,119.1 95.9,127.9 C105.3,136.7 100.6,132.3 111.3,139.8 C122.1,147.3 116.5,143.9 128.3,150.4 C140.1,156.9 134.2,153.8 146.8,159.4 C159.3,164.9 153.2,162.4 166.0,167.0 C178.8,171.5 172.6,169.3 185.3,173.1 C197.9,176.8 191.6,175.0 203.9,178.2 C216.3,181.5 209.9,180.1 222.3,182.8 C234.7,185.5 228.2,184.6 241.2,186.4 C254.1,188.1 247.5,187.7 261.2,188.1 C274.9,188.5 268.2,188.4 282.2,187.4 C296.3,186.5 289.7,187.4 303.3,185.2 C316.9,183.0 316.4,182.3 323.0,180.8" stroke="#d9b98a" stroke-width="0.9" opacity="0.27"/>
<path d="M86.3,112.0C90.8,116.7 89.8,117.7 99.9,126.1 C110.1,134.5 105.2,130.2 116.8,137.2 C128.5,144.3 122.7,140.9 134.9,147.1 C147.0,153.3 141.1,150.3 153.3,155.9 C165.5,161.5 159.4,159.0 171.4,163.9 C183.4,168.8 177.3,166.6 189.3,170.7 C201.4,174.7 195.1,172.9 207.5,176.0 C220.0,179.2 213.5,177.9 226.7,180.1 C239.9,182.3 233.3,181.4 247.1,182.6 C261.0,183.7 254.2,183.4 268.2,183.5 C282.2,183.7 275.5,183.6 289.1,183.0 C302.6,182.3 296.2,183.2 308.9,181.6 C321.5,180.1 321.0,179.4 327.1,178.3" stroke="#d9b98a" stroke-width="1.5" opacity="0.36"/>
<path d="M91.2,109.9C96.3,114.3 95.5,115.2 106.3,123.2 C117.2,131.2 112.2,127.0 123.9,133.9 C135.6,140.8 129.8,137.5 141.4,143.9 C152.9,150.3 147.1,147.2 158.5,153.1 C170.0,159.0 163.9,156.5 175.7,161.5 C187.4,166.5 181.2,164.4 193.7,168.1 C206.2,171.8 199.8,170.1 213.2,172.6 C226.6,175.2 220.0,174.0 233.8,175.7 C247.7,177.4 241.0,176.6 254.8,177.7 C268.6,178.8 261.9,178.4 275.2,179.0 C288.4,179.6 281.8,179.5 294.5,179.4 C307.2,179.4 300.8,180.1 313.2,178.8 C325.6,177.5 325.5,176.6 331.7,175.5" stroke="#d9b98a" stroke-width="0.7" opacity="0.36"/>
<path d="M96.2,107.8C101.3,112.2 100.9,112.8 111.5,120.9 C122.1,129.0 117.1,124.8 128.0,132.0 C139.0,139.2 133.3,135.8 144.3,142.5 C155.2,149.1 149.4,146.1 160.9,151.8 C172.4,157.6 166.2,155.3 178.7,159.8 C191.2,164.3 184.9,162.3 198.3,165.4 C211.7,168.5 205.2,166.9 218.9,169.2 C232.7,171.4 226.1,170.3 239.5,172.2 C253.0,174.1 246.4,173.3 259.3,174.9 C272.2,176.5 265.6,176.0 278.2,177.0 C290.8,178.0 284.3,177.9 297.0,177.8 C309.7,177.7 303.3,178.5 316.4,176.8 C329.5,175.1 329.7,174.0 336.4,172.7" stroke="#d9b98a" stroke-width="0.9" opacity="0.54"/>
<path d="M101.9,105.4C106.6,109.9 106.1,110.6 116.0,118.9 C125.9,127.2 120.9,123.0 131.6,130.3 C142.2,137.6 136.5,134.4 147.8,140.7 C159.2,147.0 153.3,144.1 165.6,149.3 C178.0,154.5 171.8,152.3 185.0,156.2 C198.2,160.2 191.8,158.3 205.3,161.3 C218.7,164.3 212.2,162.7 225.3,165.3 C238.4,167.9 231.9,166.7 244.5,169.1 C257.1,171.5 250.6,170.7 263.1,172.5 C275.6,174.3 269.1,173.8 282.0,174.5 C295.0,175.2 288.4,175.2 302.0,174.5 C315.6,173.9 309.0,174.7 322.9,172.6 C336.8,170.5 336.7,169.7 343.6,168.3" stroke="#d9b98a" stroke-width="0.9" opacity="0.54"/>
<path d="M105.2,104.0C109.7,108.5 108.8,109.4 118.7,117.7 C128.6,125.9 123.6,121.9 134.9,128.8 C146.1,135.7 140.3,132.6 152.6,138.3 C164.8,144.1 158.8,141.3 171.7,146.1 C184.5,150.9 178.3,148.7 191.2,152.7 C204.1,156.8 197.8,154.8 210.4,158.2 C223.1,161.7 216.7,160.0 229.1,163.0 C241.4,166.0 235.0,164.9 247.5,167.3 C260.1,169.6 253.5,168.8 266.7,170.2 C279.9,171.5 273.2,171.1 287.1,171.2 C300.9,171.3 294.2,171.3 308.3,170.4 C322.4,169.5 315.8,170.2 329.3,168.5 C342.8,166.7 342.4,166.2 348.9,165.1" stroke="#d9b98a" stroke-width="0.7" opacity="0.36"/>
<path d="M108.9,102.4C113.8,106.8 112.8,107.7 123.6,115.5 C134.3,123.3 129.1,119.4 141.2,125.8 C153.2,132.2 147.3,129.2 159.8,134.8 C172.2,140.3 166.2,137.5 178.6,142.4 C190.9,147.4 184.7,145.2 196.8,149.6 C208.9,154.0 202.7,152.0 214.9,155.6 C227.0,159.3 220.7,157.7 233.4,160.4 C246.0,163.2 239.5,162.1 252.9,163.9 C266.3,165.7 259.6,165.0 273.6,165.8 C287.6,166.6 280.8,166.2 294.8,166.2 C308.8,166.2 302.1,166.2 315.5,165.7 C328.9,165.2 322.4,165.9 335.1,164.7 C347.7,163.6 347.3,163.1 353.5,162.3" stroke="#d9b98a" stroke-width="0.9" opacity="0.36"/>
<path d="M113.1,100.6C118.5,104.7 117.8,105.5 129.2,113.0 C140.5,120.5 135.2,116.6 147.1,123.0 C159.0,129.4 153.1,126.4 164.9,132.2 C176.6,138.0 170.7,135.2 182.3,140.4 C194.0,145.6 187.8,143.5 199.8,147.9 C211.8,152.3 205.5,150.4 218.3,153.6 C231.1,156.8 224.6,155.3 238.2,157.5 C251.8,159.7 245.1,158.7 259.1,160.1 C273.0,161.5 266.3,160.9 280.0,161.7 C293.7,162.6 287.1,162.2 300.2,162.7 C313.3,163.2 306.8,163.1 319.4,163.2 C332.0,163.2 325.6,163.8 338.1,162.8 C350.7,161.8 350.7,161.0 357.0,160.2" stroke="#d9b98a" stroke-width="0.7" opacity="0.36"/>
<path d="M119.8,97.8C125.1,101.9 124.8,102.5 135.7,110.0 C146.7,117.6 141.4,113.8 152.6,120.5 C163.7,127.1 157.9,124.2 169.2,130.1 C180.5,136.0 174.5,133.3 186.4,138.2 C198.3,143.2 192.1,141.2 204.9,145.0 C217.7,148.8 211.3,147.1 224.9,149.7 C238.6,152.3 232.0,150.9 245.8,152.9 C259.6,154.9 252.9,154.0 266.3,155.7 C279.7,157.4 273.1,156.7 285.9,158.0 C298.8,159.3 292.2,158.9 304.8,159.7 C317.4,160.5 310.8,160.5 323.7,160.4 C336.6,160.2 330.1,160.8 343.4,159.3 C356.8,157.9 357.1,157.1 363.9,156.0" stroke="#d9b98a" stroke-width="0.9" opacity="0.36"/>
<path d="M124.6,95.7C129.5,99.9 129.1,100.6 139.4,108.4 C149.7,116.2 144.4,112.4 155.4,119.1 C166.4,125.8 160.5,122.9 172.4,128.5 C184.2,134.1 178.1,131.4 191.0,135.8 C203.8,140.2 197.4,138.3 210.9,141.6 C224.3,145.0 217.8,143.3 231.3,146.0 C244.8,148.6 238.3,147.2 251.3,149.6 C264.3,152.0 257.8,151.0 270.4,153.2 C282.9,155.3 276.4,154.6 289.0,156.0 C301.6,157.5 295.0,157.1 308.2,157.5 C321.3,157.9 314.7,157.9 328.5,157.2 C342.3,156.5 335.6,157.1 349.6,155.4 C363.6,153.6 363.5,153.2 370.4,152.0" stroke="#d9b98a" stroke-width="1.2" opacity="0.36"/>
<path d="M128.7,94.0C133.5,98.2 132.8,99.0 143.2,106.7 C153.7,114.3 148.3,110.7 160.1,116.9 C171.9,123.2 165.8,120.4 178.5,125.4 C191.3,130.4 185.1,127.9 198.3,131.9 C211.4,136.0 205.1,134.1 218.1,137.6 C231.1,141.1 224.7,139.4 237.3,142.4 C249.9,145.5 243.5,144.0 255.9,146.8 C268.4,149.5 261.9,148.5 274.6,150.6 C287.3,152.6 280.7,151.9 294.1,152.8 C307.5,153.7 300.8,153.3 314.8,153.2 C328.8,153.0 322.1,153.1 336.1,152.2 C350.2,151.4 343.5,151.9 357.0,150.6 C370.5,149.3 370.1,149.1 376.6,148.3" stroke="#d9b98a" stroke-width="0.9" opacity="0.36"/>
<path d="M132.6,92.3C137.9,96.3 137.0,97.2 148.4,104.4 C159.7,111.5 154.2,108.0 166.7,113.8 C179.1,119.7 173.0,117.0 185.8,121.9 C198.5,126.7 192.4,124.2 204.9,128.4 C217.4,132.6 211.1,130.7 223.3,134.6 C235.6,138.4 229.2,136.8 241.6,139.9 C253.9,143.1 247.5,141.7 260.4,144.1 C273.3,146.4 266.7,145.6 280.3,147.0 C294.0,148.4 287.3,147.9 301.3,148.3 C315.4,148.6 308.6,148.3 322.5,148.1 C336.4,148.0 329.7,148.1 343.0,147.7 C356.3,147.4 349.8,147.8 362.4,147.1 C375.1,146.4 374.8,146.1 381.0,145.7" stroke="#d9b98a" stroke-width="1.2" opacity="0.27"/>
<path d="M138.2,90.0C143.8,93.8 143.4,94.5 155.2,101.3 C167.0,108.2 161.4,104.7 173.6,110.6 C185.7,116.5 179.7,113.8 191.6,118.9 C203.6,124.1 197.6,121.5 209.5,125.9 C221.4,130.4 215.1,128.6 227.5,132.3 C239.8,136.0 233.4,134.4 246.5,137.0 C259.6,139.7 253.0,138.4 266.8,140.2 C280.6,142.0 273.9,141.3 287.9,142.4 C301.9,143.5 295.1,143.0 308.8,143.5 C322.4,144.1 315.7,143.7 328.8,144.1 C341.8,144.4 335.2,144.5 347.8,144.6 C360.5,144.7 354.0,145.0 366.7,144.4 C379.4,143.7 379.6,143.2 386.0,142.6" stroke="#d9b98a" stroke-width="1.5" opacity="0.36"/>
<path d="M144.8,87.1C150.4,90.9 150.2,91.5 161.5,98.5 C172.8,105.5 167.3,102.1 178.7,108.2 C190.1,114.3 184.1,111.7 195.8,116.9 C207.5,122.1 201.4,119.6 213.7,123.7 C226.1,127.8 219.7,126.1 232.9,129.2 C246.2,132.3 239.6,130.8 253.4,133.0 C267.3,135.1 260.6,133.9 274.4,135.6 C288.2,137.3 281.5,136.6 294.8,138.1 C308.1,139.6 301.5,139.0 314.3,140.0 C327.1,141.1 320.5,140.7 333.2,141.2 C345.8,141.8 339.2,141.9 352.3,141.7 C365.3,141.5 358.7,141.9 372.4,140.7 C386.0,139.6 386.3,139.1 393.2,138.2" stroke="#d9b98a" stroke-width="1.2" opacity="0.27"/>
<path d="M151.5,84.3C156.7,88.2 156.3,88.8 167.0,96.0 C177.8,103.2 172.2,99.8 183.7,105.8 C195.1,111.9 189.0,109.4 201.4,114.1 C213.8,118.8 207.6,116.4 220.9,119.9 C234.2,123.3 227.7,121.7 241.4,124.4 C255.1,127.1 248.5,125.7 262.0,127.9 C275.5,130.1 269.0,128.9 281.9,131.0 C294.9,133.2 288.3,132.5 300.9,134.3 C313.5,136.2 307.0,135.6 319.7,136.6 C332.5,137.6 325.9,137.2 339.2,137.3 C352.6,137.3 345.9,137.5 359.8,136.8 C373.8,136.0 367.0,136.4 381.1,135.1 C395.2,133.8 395.1,133.6 402.1,132.9" stroke="#d9b98a" stroke-width="1.2" opacity="0.27"/>
<path d="M156.4,82.2C161.6,86.1 160.9,86.9 172.0,93.8 C183.2,100.7 177.4,97.5 189.8,103.0 C202.1,108.5 195.8,106.2 209.0,110.3 C222.3,114.4 215.9,112.2 229.4,115.3 C242.9,118.5 236.4,116.9 249.5,119.8 C262.7,122.7 256.2,121.3 268.8,123.9 C281.5,126.5 275.0,125.3 287.5,127.6 C300.1,130.0 293.5,129.3 306.4,130.9 C319.4,132.5 312.7,132.0 326.4,132.4 C340.0,132.7 333.3,132.4 347.4,131.9 C361.5,131.5 354.7,131.7 368.7,130.9 C382.8,130.2 376.1,130.4 389.5,129.7 C402.9,128.9 402.5,129.0 409.1,128.7" stroke="#d9b98a" stroke-width="0.7" opacity="0.45"/>
<path d="M161.5,80.0C167.2,83.6 166.5,84.4 178.6,90.8 C190.7,97.3 184.8,94.2 197.7,99.3 C210.6,104.4 204.2,102.2 217.3,106.2 C230.4,110.2 224.1,108.0 236.9,111.4 C249.7,114.7 243.2,113.2 255.6,116.4 C268.1,119.5 261.6,118.2 274.2,120.7 C286.8,123.3 280.2,122.2 293.4,124.1 C306.6,126.0 299.9,125.5 313.7,126.4 C327.6,127.4 320.8,127.0 335.0,126.9 C349.1,126.9 342.4,126.6 356.2,126.2 C370.0,125.9 363.3,126.1 376.5,125.9 C389.7,125.7 383.1,125.8 395.8,125.6 C408.4,125.4 408.3,125.4 414.6,125.3" stroke="#d9b98a" stroke-width="1.2" opacity="0.54"/>

      <g transform="translate(112,113.5) rotate(22)" stroke="#dcc097" stroke-width="1.2" opacity="0.75">
        <path d="M40,-4 C15,-4 0,-2.5 0,0 C0,2.5 15,4 40,4"/>
        <path d="M62,-8 C20,-8 -8,-5 -8,0 C-8,5 20,8 62,8"/>
        <path d="M90,-12.5 C30,-12.5 -16,-8 -16,0 C-16,8 30,12.5 90,12.5"/>
      </g>
    </g>
    </g>
  </g>

  <!-- leader lines -->
  <g stroke="#232323" stroke-width="1.9">
    <line x1="336" y1="99.2" x2="496" y2="99.2"/>
    <line x1="336" y1="137" x2="496" y2="137"/>
    <line x1="336" y1="196.8" x2="496" y2="196.8"/>
    <line x1="336" y1="293.2" x2="496" y2="293.2"/>
  </g>
</svg>
<div class="title">СТРУКТУРА ЛАМИНАТА</div>
<div class="lbl" style="top:88px">ламинированное покрытие</div>
<div class="lbl" style="top:126.5px">декоративная бумага</div>
<div class="lbl" style="top:186px">древесноволокнистая</div>
<div class="lbl" style="top:206px">плита</div>
<div class="lbl" style="top:280.5px;left:520px">стабилизирующий слой</div>
</body>
</html>
